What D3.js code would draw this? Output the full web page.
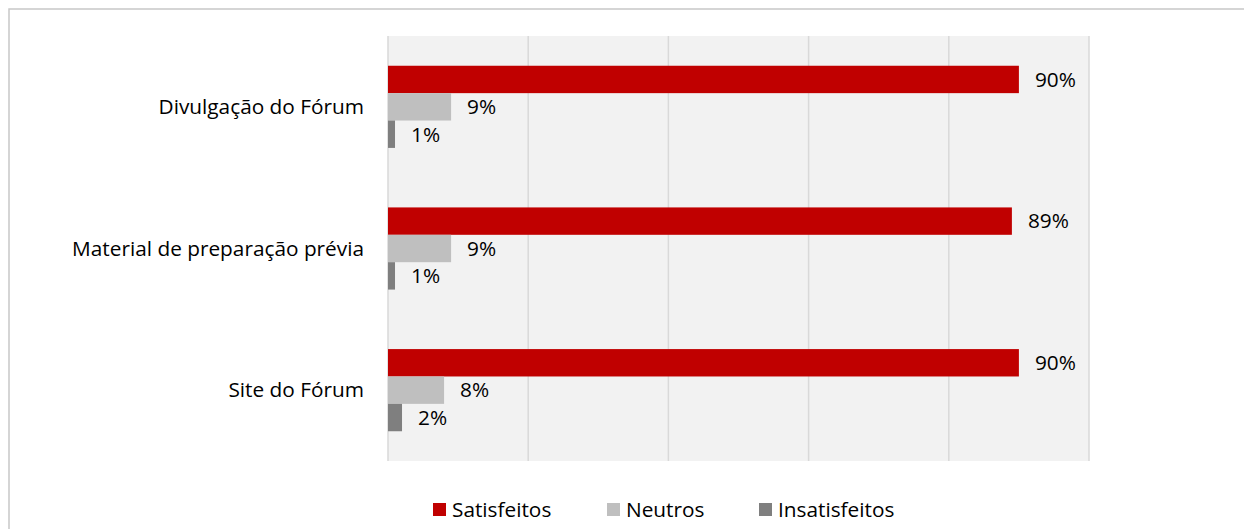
<!DOCTYPE html>
<html>
<head>
<meta charset="utf-8">
<script src="https://cdn.jsdelivr.net/npm/d3@7"></script>
<style>
  body { margin: 0; background: #fff; }
  svg text { font-family: "Open Sans", "Noto Sans", sans-serif; fill: #000; }
</style>
</head>
<body>
<div id="chart"></div>
<script>
const categories = ['Divulgação do Fórum', 'Material de preparação prévia', 'Site do Fórum']
const seriesNames = ['Satisfeitos', 'Neutros', 'Insatisfeitos']
const satisfeitos = [90, 89, 90]
const neutros = [9, 9, 8]
const insatisfeitos = [1, 1, 2]
const xTicks = [0, 20, 40, 60, 80, 100]

const colors = ['#c00000', '#bfbfbf', '#7f7f7f']
const series = [satisfeitos, neutros, insatisfeitos]

const size = { width: 1244, height: 529 }
const plot = { left: 388, right: 1089, top: 36, bottom: 461 }
const fontSize = 20.8

const svg = d3.select('#chart')
  .append('svg')
  .attr('width', size.width)
  .attr('height', size.height)

// frame of the chart object (only top and left show in the picture)
svg.append('rect')
  .attr('x', 9).attr('y', 9)
  .attr('width', 1260).attr('height', 560)
  .attr('fill', 'none')
  .attr('stroke', '#c8c8c8')
  .attr('stroke-width', 1.5)

const x = d3.scaleLinear().domain([0, 100]).range([plot.left, plot.right])
const y = d3.scaleBand().domain(categories).range([plot.top, plot.bottom]).paddingInner(0.42).paddingOuter(0.21)
const ySub = d3.scaleBand().domain(seriesNames).range([0, y.bandwidth()])

svg.append('rect')
  .attr('x', plot.left).attr('y', plot.top)
  .attr('width', plot.right - plot.left).attr('height', plot.bottom - plot.top)
  .attr('fill', '#f2f2f2')

svg.append('g')
  .selectAll('line')
  .data(xTicks)
  .enter()
  .append('line')
  .attr('x1', d => x(d)).attr('x2', d => x(d))
  .attr('y1', plot.top).attr('y2', plot.bottom)
  .attr('stroke', '#d9d9d9')
  .attr('stroke-width', 1.5)

const groups = svg.append('g')
  .selectAll('g')
  .data(categories)
  .enter()
  .append('g')
  .attr('transform', d => `translate(0,${y(d)})`)

groups.each(function (cat, ci) {
  const g = d3.select(this)
  seriesNames.forEach((name, si) => {
    const v = series[si][ci]
    g.append('rect')
      .attr('x', x(0))
      .attr('y', ySub(name))
      .attr('width', x(v) - x(0))
      .attr('height', ySub.bandwidth())
      .attr('fill', colors[si])
    g.append('text')
      .attr('x', x(v) + 16)
      .attr('y', ySub(name) + ySub.bandwidth() / 2)
      .attr('dy', '0.35em')
      .attr('font-size', fontSize)
      .text(v + '%')
  })
})

// category labels
svg.append('g')
  .selectAll('text')
  .data(categories)
  .enter()
  .append('text')
  .attr('x', plot.left - 24)
  .attr('y', d => y(d) + y.bandwidth() / 2)
  .attr('dy', '0.35em')
  .attr('text-anchor', 'end')
  .attr('font-size', fontSize)
  .text(d => d)

// legend
const legendX = [433, 607, 759]
const legend = svg.append('g')
  .selectAll('g')
  .data(seriesNames)
  .enter()
  .append('g')
  .attr('transform', (d, i) => `translate(${legendX[i]},503)`)

legend.append('rect')
  .attr('width', 13).attr('height', 13)
  .attr('fill', (d, i) => colors[i])

legend.append('text')
  .attr('x', 19)
  .attr('y', 7)
  .attr('dy', '0.35em')
  .attr('font-size', fontSize)
  .text(d => d)
</script>
</body>
</html>
